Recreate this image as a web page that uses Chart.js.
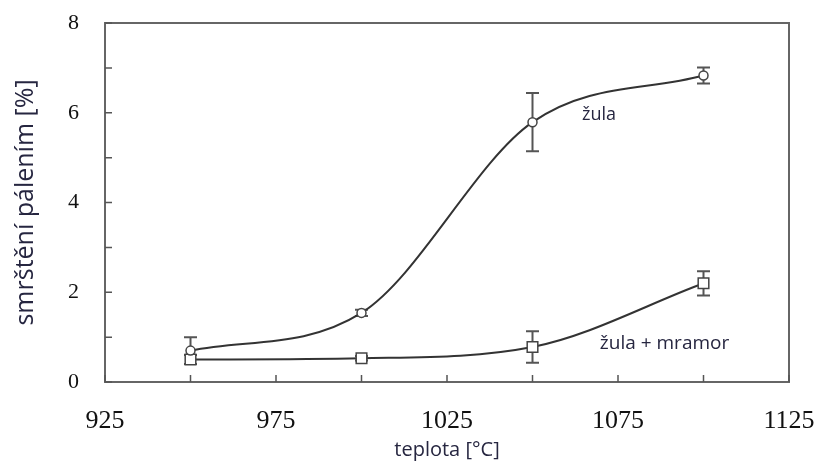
<!DOCTYPE html>
<html><head><meta charset="utf-8">
<script src="https://cdn.jsdelivr.net/npm/chart.js@4"></script>
<style>html,body{margin:0;padding:0;background:#fff}#c{display:block}</style>
</head><body>
<canvas id="c" width="819" height="464"></canvas>
<script>
const temps = [950, 1000, 1050, 1100];
const zula = [0.70, 1.54, 5.79, 6.83];
const zulaErr = [0.30, 0.07, 0.65, 0.18];
const mix = [0.50, 0.53, 0.78, 2.20];
const mixErr = [0.10, 0.05, 0.35, 0.27];
const xLabelTicks = [925, 975, 1025, 1075, 1125];
const yLabelTicks = [0, 2, 4, 6, 8];
const seriesNames = ['žula', 'žula + mramor'];
const labelAnchors = [[1064.5, 5.95], [1069.7, 0.85]];
const labelSizes = [18, 19];

const LINE = '#333333';
const TEXT = '#262640';

const frameTicks = {
  id: 'frameTicks',
  afterDraw(chart) {
    const {ctx, chartArea: a, scales: {x, y}} = chart;
    ctx.save();
    ctx.strokeStyle = '#666';
    ctx.lineWidth = 2;
    ctx.strokeRect(a.left, a.top, a.right - a.left, a.bottom - a.top);
    ctx.lineWidth = 1.5;
    ctx.strokeStyle = '#555';
    ctx.beginPath();
    x.ticks.forEach(t => {
      const px = x.getPixelForValue(t.value);
      ctx.moveTo(px, a.bottom); ctx.lineTo(px, a.bottom - 7);
    });
    y.ticks.forEach(t => {
      const py = y.getPixelForValue(t.value);
      ctx.moveTo(a.left, py); ctx.lineTo(a.left + 7, py);
    });
    ctx.stroke();
    ctx.fillStyle = TEXT;
    ctx.textBaseline = 'middle';
    ctx.textAlign = 'left';
    seriesNames.forEach((n, i) => {
      ctx.font = labelSizes[i] + 'px "Open Sans"';
      ctx.fillText(n, x.getPixelForValue(labelAnchors[i][0]), y.getPixelForValue(labelAnchors[i][1]));
    });
    ctx.restore();
  }
};

const errorBars = {
  id: 'errorBars',
  beforeDatasetsDraw(chart) {
    const {ctx, scales: {x, y}} = chart;
    const errs = [zulaErr, mixErr];
    ctx.save();
    ctx.strokeStyle = '#555';
    ctx.lineWidth = 2;
    chart.data.datasets.forEach((ds, di) => {
      ds.data.forEach((p, i) => {
        const e = errs[di][i];
        const px = x.getPixelForValue(p.x);
        const top = y.getPixelForValue(p.y + e);
        const bot = y.getPixelForValue(p.y - e);
        ctx.beginPath();
        ctx.moveTo(px, top); ctx.lineTo(px, bot);
        ctx.moveTo(px - 6.5, top); ctx.lineTo(px + 6.5, top);
        ctx.moveTo(px - 6.5, bot); ctx.lineTo(px + 6.5, bot);
        ctx.stroke();
      });
    });
    ctx.restore();
  }
};

new Chart(document.getElementById('c'), {
  type: 'line',
  data: {
    datasets: [
      {
        label: seriesNames[0],
        data: temps.map((t, i) => ({x: t, y: zula[i]})),
        borderColor: LINE, borderWidth: 2,
        cubicInterpolationMode: 'monotone', tension: 0.4,
        pointStyle: 'circle', pointRadius: 4.5,
        pointBackgroundColor: '#fff', pointBorderColor: '#444', pointBorderWidth: 1.5
      },
      {
        label: seriesNames[1],
        data: temps.map((t, i) => ({x: t, y: mix[i]})),
        borderColor: LINE, borderWidth: 2,
        cubicInterpolationMode: 'monotone', tension: 0.4,
        pointStyle: 'rect', pointRadius: 7.5,
        pointBackgroundColor: '#fff', pointBorderColor: '#444', pointBorderWidth: 1.5
      }
    ]
  },
  options: {
    responsive: false,
    animation: false,
    layout: {padding: {top: 23, right: 30, left: 0, bottom: 0}},
    plugins: {legend: {display: false}, tooltip: {enabled: false}},
    scales: {
      x: {
        type: 'linear', min: 925, max: 1125,
        grid: {display: false}, border: {display: false},
        ticks: {
          stepSize: 25, autoSkip: false, maxRotation: 0, padding: 16,
          color: '#111', font: {family: '"Liberation Serif"', size: 26},
          callback: v => xLabelTicks.includes(v) ? String(v) : ''
        },
        title: {display: true, text: 'teplota [°C]', color: TEXT,
          font: {family: '"Open Sans"', size: 20}, padding: {top: 0, bottom: 2}},
        afterFit: s => { s.height = 82; s.paddingLeft = 0; s.paddingRight = 0; }
      },
      y: {
        min: 0, max: 8,
        grid: {display: false}, border: {display: false},
        ticks: {
          stepSize: 1, autoSkip: false, padding: 18,
          color: '#111', font: {family: '"Liberation Serif"', size: 22},
          callback: v => yLabelTicks.includes(v) ? String(v) : ''
        },
        title: {display: true, text: 'smrštění pálením [%]', color: TEXT,
          font: {family: '"Open Sans"', size: 25}, padding: {top: 11, bottom: 0}},
        afterFit: s => { s.width = 105; s.paddingTop = 0; s.paddingBottom = 0; }
      }
    }
  },
  plugins: [errorBars, frameTicks]
});
</script>
</body></html>
